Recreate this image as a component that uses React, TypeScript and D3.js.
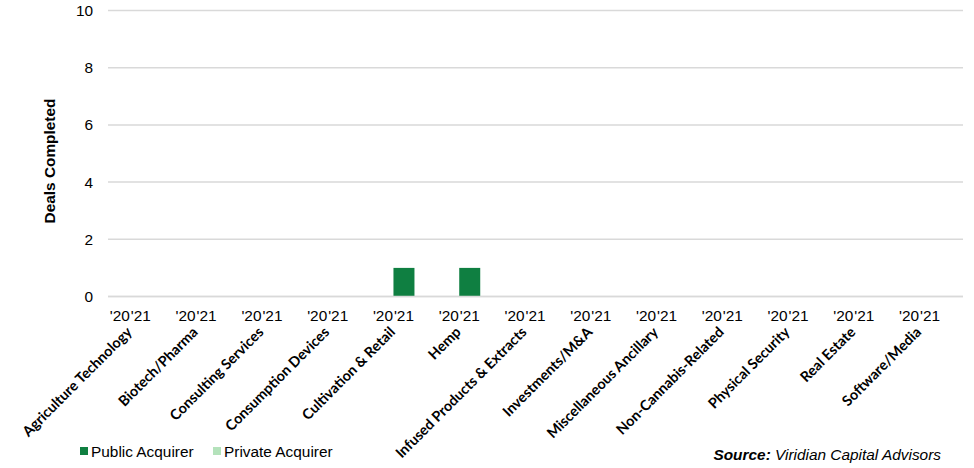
import React from "react";
import * as d3 from "d3";

const categories = [
  "Agriculture Technology",
  "Biotech/Pharma",
  "Consulting Services",
  "Consumption Devices",
  "Cultivation & Retail",
  "Hemp",
  "Infused Products & Extracts",
  "Investments/M&A",
  "Miscellaneous Ancillary",
  "Non-Cannabis-Related",
  "Physical Security",
  "Real Estate",
  "Software/Media",
];
const publicAcquirer = [0, 0, 0, 0, 1, 1, 0, 0, 0, 0, 0, 0, 0];
const privateAcquirer = [0, 0, 0, 0, 0, 0, 0, 0, 0, 0, 0, 0, 0];
const yearLabels = ["'20", "'21"];
const yTicks = [0, 2, 4, 6, 8, 10];
const seriesNames = ["Public Acquirer", "Private Acquirer"];
const seriesColors = ["#0f7f41", "#b4e2bb"];

const W = 974;
const H = 468;
const left = 108;
const right = 963;
const top = 10.5;
const bottom = 296.5;

export default function App() {
  const x = d3.scaleBand<string>().domain(categories).range([left, right]).padding(0);
  const y = d3.scaleLinear().domain([0, 10]).range([bottom, top]);
  const bw = 21;
  const arial = "'Liberation Sans', Arial, sans-serif";
  const calibri = "Lato, 'Open Sans', sans-serif";
  const fs = 15.4;
  return (
    <div style={{ position: "absolute", left: 0, top: 0 }}>
      <svg width={W} height={H} style={{ display: "block", background: "#fff" }}>
        {yTicks.map((t) => (
          <g key={t}>
            <line x1={left} x2={right} y1={y(t)} y2={y(t)} stroke="#d9d9d9" strokeWidth={1.5} />
            <text x={93} y={y(t) + 5.5} textAnchor="end" fontFamily={arial} fontSize={fs} fill="#000">
              {t}
            </text>
          </g>
        ))}
        <text
          transform={`translate(55,161) rotate(-90)`}
          textAnchor="middle"
          fontFamily={arial}
          fontWeight="bold"
          fontSize={fs}
          fill="#000"
        >
          Deals Completed
        </text>
        {categories.map((c, i) => {
          const cx = (x(c) as number) + x.bandwidth() / 2;
          const p0 = y(0);
          const p1 = y(publicAcquirer[i]);
          const q1 = y(publicAcquirer[i] + privateAcquirer[i]);
          return (
            <g key={c}>
              {publicAcquirer[i] > 0 && (
                <rect x={cx - bw / 2} y={p1} width={bw} height={p0 - p1} fill={seriesColors[0]} />
              )}
              {privateAcquirer[i] > 0 && (
                <rect x={cx - bw / 2} y={q1} width={bw} height={p1 - q1} fill={seriesColors[1]} />
              )}
              <text x={cx - 21} y={320.5} textAnchor="middle" fontFamily={arial} fontSize={fs} fill="#000">
                {yearLabels[0]}
              </text>
              <text x={cx} y={320.5} textAnchor="middle" fontFamily={arial} fontSize={fs} fill="#000">
                {yearLabels[1]}
              </text>
              <text
                transform={`translate(${cx - 8},${333}) rotate(-45)`}
                textAnchor="end"
                fontFamily={calibri}
                fontWeight="bold"
                fontSize={14.4}
                fill="#000"
              >
                {c}
              </text>
            </g>
          );
        })}
        <line x1={left} x2={right} y1={bottom} y2={bottom} stroke="#d9d9d9" strokeWidth={1.5} />
        {seriesNames.map((s, i) => (
          <g key={s} transform={`translate(${i === 0 ? 80 : 213},0)`}>
            <rect x={0} y={447} width={8} height={8} fill={seriesColors[i]} />
            <text x={11} y={457} fontFamily={arial} fontSize={fs} fill="#000">
              {s}
            </text>
          </g>
        ))}
        <text x={941} y={460} textAnchor="end" fontFamily={arial} fontSize={fs} fontStyle="italic" fill="#000">
          <tspan fontWeight="bold">Source:</tspan>
          <tspan> Viridian Capital Advisors</tspan>
        </text>
      </svg>
    </div>
  );
}
